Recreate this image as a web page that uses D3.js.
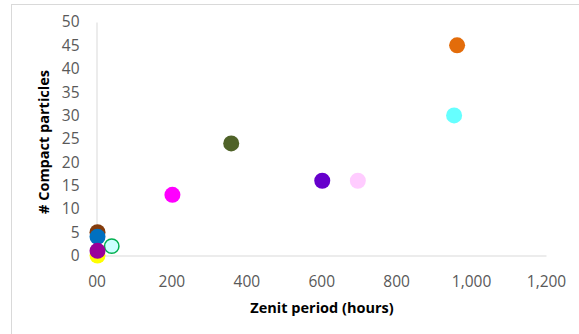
<!DOCTYPE html>
<html><head><meta charset="utf-8">
<script src="https://cdn.jsdelivr.net/npm/d3@7"></script>
<style>body{margin:0;background:#fff}svg{display:block}</style>
</head><body><svg id="c" width="579" height="334"></svg>
<script>
const names = ["brown","lightcyan","yellow","blue","darkmagenta","magenta","olive","purple","pink","cyan","orange"];
const xValues = [0, 38, 0, 0, 0, 200, 357, 600, 695, 952, 960];
const yValues = [5, 2, 0, 4, 1, 13, 24, 16, 16, 30, 45];
const fills = ["#843C0C","#CCFFFF","#FFFF00","#0070C0","#990099","#FF00FF","#4F6228","#6600CC","#FFCCFF","#66FFFF","#E36C0A"];
const strokes = ["none","#00B050","none","none","none","none","none","none","none","none","none"];
const xTicks = [0,200,400,600,800,1000,1200];
const xTickLabels = ["00","200","400","600","800","1,000","1,200"];
const yTicks = [0,5,10,15,20,25,30,35,40,45,50];
const xTitle = "Zenit period (hours)";
const yTitle = "# Compact particles";

const svg = d3.select("#c");
svg.append("rect").attr("x",11.5).attr("y",4.5).attr("width",600).attr("height",400)
  .attr("fill","none").attr("stroke","#D9D9D9");
const x = d3.scaleLinear().domain([0,1200]).range([96.5,546]);
const y = d3.scaleLinear().domain([0,50]).range([255.5,22]);
const font = "'Open Sans', sans-serif";

const xa = svg.append("g").attr("transform",`translate(0,${y(0)})`)
  .call(d3.axisBottom(x).tickValues(xTicks).tickSize(0).tickPadding(20)
    .tickFormat((d,i)=>xTickLabels[i]));
xa.select(".domain").attr("stroke","#D9D9D9");
xa.selectAll("text").attr("font-family",font).attr("font-size",15.5).attr("fill","#595959");

const ya = svg.append("g").attr("transform",`translate(${x(0)},0)`)
  .call(d3.axisLeft(y).tickValues(yTicks).tickSize(0).tickPadding(17));
ya.select(".domain").attr("stroke","#D9D9D9");
ya.selectAll("text").attr("font-family",font).attr("font-size",15.5).attr("fill","#595959");

svg.append("text").attr("x",322).attr("y",313).attr("text-anchor","middle")
  .attr("font-family",font).attr("font-weight","bold").attr("font-size",14.5).attr("fill","#000").text(xTitle);
svg.append("text").attr("transform","translate(49,142) rotate(-90)").attr("text-anchor","middle")
  .attr("font-family",font).attr("font-weight","bold").attr("font-size",14.5).attr("fill","#000").text(yTitle);

svg.append("g").selectAll("circle").data(xValues.map((v,i)=>i)).join("circle")
  .attr("cx",i=>x(xValues[i])+1).attr("cy",i=>y(yValues[i]))
  .attr("r",i=>strokes[i]==="none"?8:7.2)
  .attr("fill",i=>fills[i]).attr("stroke",i=>strokes[i]).attr("stroke-width",1.5);
</script></body></html>
